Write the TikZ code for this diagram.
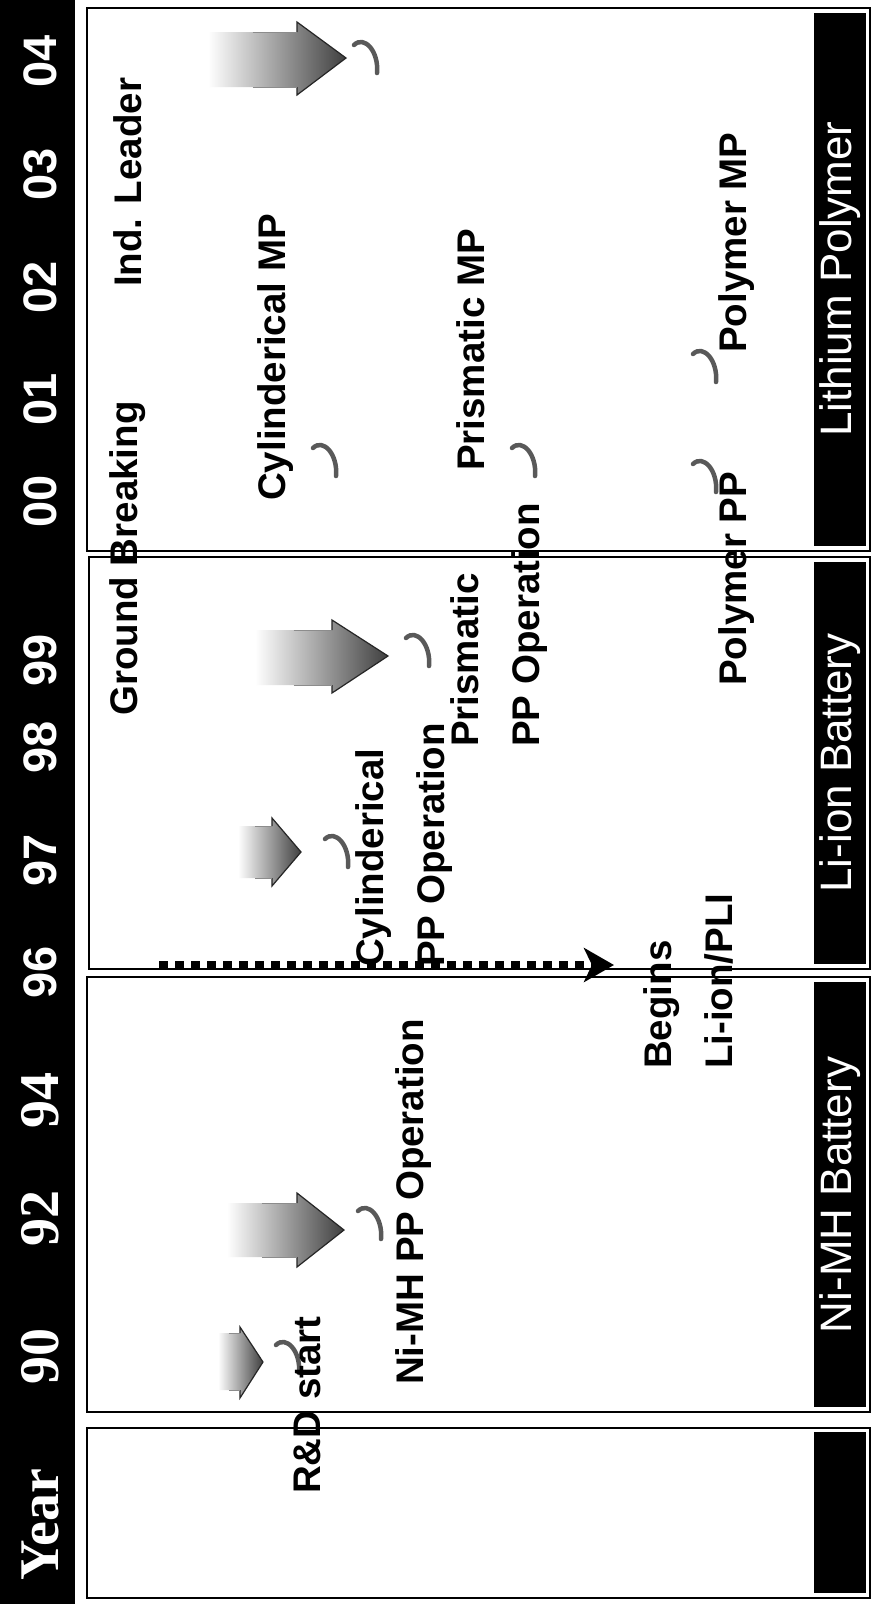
\documentclass[tikz,border=0pt]{standalone}
\usepackage{fontspec}
\newfontfamily\arialf{Liberation Sans}
\newfontfamily\timesf{Liberation Serif}
\usetikzlibrary{arrows.meta}
\newcommand\BArrow[8]{%
  \shade[left color=white,right color=black!75] (#1,#4) -- (#2,#4) -- (#2,#6) -- (#3,#8) -- (#2,#7) -- (#2,#5) -- (#1,#5) -- cycle;
  \draw[black!85,line width=1.2pt,line join=miter] (#2,#4) -- (#2,#6) -- (#3,#8) -- (#2,#7) -- (#2,#5);
  \draw[black!45,line width=1pt] ({(#1+#2)/2},#4) -- (#2,#4) ({(#1+#2)/2},#5) -- (#2,#5);
}
\newcommand\Cres[2]{%
  \draw[cres] (#1-12,#2-12) .. controls (#1-2,#2-22) and (#1+13,#2-6) .. (#1+11,#2+16);
}
\begin{document}
\begin{tikzpicture}[x=1pt,y=-1pt,
  panel/.style={draw=black, line width=2pt, fill=white},
  bandtxt/.style={rotate=90, text=white, inner sep=0pt, font=\arialf\fontsize{44}{44}\selectfont},
  yrsans/.style={rotate=90, text=white, inner sep=0pt, font=\arialf\bfseries\fontsize{47}{47}\selectfont},
  yrserif/.style={rotate=90, text=white, inner sep=0pt, font=\timesf\bfseries\fontsize{56}{56}\selectfont},
  lbl/.style={rotate=90, anchor=west, inner sep=0pt, align=left, font=\arialf\bfseries\fontsize{38.5}{61}\selectfont},
  cres/.style={draw=black!65, line width=4.5pt, line cap=round},
  dotline/.style={line width=9pt, dash pattern=on 9pt off 7pt, -{Stealth[length=30pt,width=34pt,inset=8pt]}}
]
\fill[white] (0,0) rectangle (873,1604);
\useasboundingbox (0,0) rectangle (873,1604);
% year column
\fill[black] (0,0) rectangle (75,1604);
\node[yrserif] (yYear) at (40,1525) {Year};
\node[yrserif] (y90) at (40,1356) {90};
\node[yrserif] (y92) at (40,1218) {92};
\node[yrserif] (y94) at (40,1100) {94};
\node[yrsans] (y96) at (40,972) {96};
\node[yrsans] (y97) at (40,860) {97};
\node[yrsans] (y98) at (40,747) {98};
\node[yrsans] (y99) at (40,660) {99};
\node[yrsans] (y00) at (40,501) {00};
\node[yrsans] (y01) at (40,399) {01};
\node[yrsans] (y02) at (40,287) {02};
\node[yrsans] (y03) at (40,174) {03};
\node[yrsans] (y04) at (40,61) {04};
% panels
\draw[panel] (87,8) rectangle (870,551);
\draw[panel] (89,557) rectangle (870,969);
\draw[panel] (87,977) rectangle (870,1412);
\draw[panel] (87,1428) rectangle (870,1598);
% bands
\fill[black] (814,13) rectangle (866,546);
\fill[black] (814,562) rectangle (866,964);
\fill[black] (814,982) rectangle (866,1407);
\fill[black] (814,1432) rectangle (866,1593);
\node[bandtxt] (bLP) at (840,279) {Lithium Polymer};
\node[bandtxt] (bLI) at (840,763) {Li-ion Battery};
\node[bandtxt] (bNM) at (840,1195) {Ni-MH Battery};
% block arrows: x0 xb xt s1 s2 h1 h2 yt
\BArrow{218}{240}{263}{1333}{1390}{1327}{1398}{1362}
\BArrow{227}{297}{344}{1203}{1257}{1193}{1267}{1230}
\BArrow{238}{272}{301}{826}{878}{818}{886}{852}
\BArrow{255}{332}{388}{630}{685}{620}{693}{656}
\BArrow{208}{297}{346}{32}{87}{22}{95}{58}
% crescents
\Cres{288}{1357}
\Cres{370}{1223}
\Cres{337}{851}
\Cres{418}{650}
\Cres{325}{460}
\Cres{524}{460}
\Cres{705}{476}
\Cres{705}{366}
\Cres{366}{57}
% dotted arrow
\coordinate (ds) at (159,965);
\coordinate (de) at (614,965);
\draw[dotline] (ds) -- (de);
% labels
\node[lbl] (rd) at (307,1494) {R\&D start};
\node[lbl] (nimh) at (414,1385) {Ni-MH PP Operation};
\node[lbl] (begins) at (688,1069) {Begins\\Li-ion/PLI};
\node[lbl] (cyl) at (404,967) {Cylinderical\\PP Operation};
\node[lbl] (pris) at (499,747) {Prismatic\\PP Operation};
\node[lbl] (gb) at (128,716) {Ground Breaking};
\node[lbl] (cylmp) at (276,501) {Cylinderical MP};
\node[lbl] (prismp) at (471,471) {Prismatic MP};
\node[lbl] (ind) at (128,287) {Ind. Leader};
\node[lbl] (polpp) at (737,686) {Polymer PP};
\node[lbl] (polmp) at (737,353) {Polymer MP};
\end{tikzpicture}
\end{document}
